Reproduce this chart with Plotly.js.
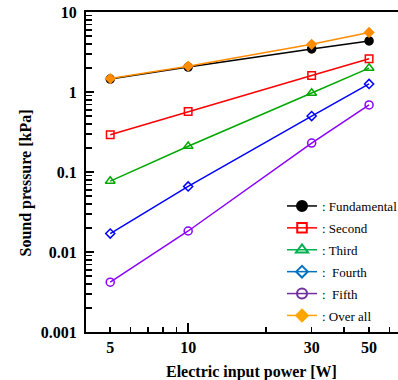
<!DOCTYPE html>
<html>
<head>
<meta charset="utf-8">
<script src="https://cdn.plot.ly/plotly-3.0.1.min.js"></script>
<style>
html,body{margin:0;padding:0;overflow:hidden;background:#fff;width:398px;height:380px;}
#chart{width:460px;height:380px;}
</style>
</head>
<body>
<div id="chart"></div>
<script>
// Data
const power = [5, 10, 30, 50];
const fundamental = [1.45, 2.05, 3.45, 4.35];
const second = [0.292, 0.57, 1.61, 2.6];
const third = [0.077, 0.21, 0.97, 1.99];
const fourth = [0.017, 0.066, 0.50, 1.26];
const fifth = [0.0042, 0.0183, 0.23, 0.69];
const overall = [1.47, 2.1, 3.95, 5.55];

const seriesNames = [': Fundamental', ': Second', ': Third', ':  Fourth', ':  Fifth', ': Over all'];
const xTickVals = [5, 10, 30, 50];
const xTickText = ['5', '10', '30', '50'];
const yTickVals = [0.001, 0.01, 0.1, 1, 10];
const yTickText = ['0.001', '0.01', '0.1', '1', '10'];
const xMinor = [5, 6, 7, 8, 9, 20, 30, 40, 50, 60, 70, 80, 90];
const yMinor = [];
[0.001, 0.01, 0.1, 1].forEach(d => { for (let k = 2; k <= 9; k++) yMinor.push(d * k); });

const series = [
  {y: fundamental, color: '#000000', legColor: '#000000', symbol: 'circle', size: 8},
  {y: second, color: '#ff0000', legColor: '#ff0000', symbol: 'square-open', size: 7.5},
  {y: third, color: '#00a800', legColor: '#00b050', symbol: 'triangle-up-open', size: 8.5},
  {y: fourth, color: '#0000ff', legColor: '#0070c0', symbol: 'diamond-open', size: 7},
  {y: fifth, color: '#8a00ff', legColor: '#7030a0', symbol: 'circle-open', size: 8},
  {y: overall, color: '#ff8c00', legColor: '#ffa500', symbol: 'diamond', size: 7}
];

const traces = [];
series.forEach((s, i) => {
  traces.push({
    x: power, y: s.y, type: 'scatter', mode: 'lines+markers',
    line: {color: s.color, width: 1.5},
    marker: {symbol: s.symbol, size: s.size, color: s.color, line: {color: s.color, width: 1.5}},
    showlegend: false, cliponaxis: false
  });
});
// legend entries (legend colours in the reference differ from the plotted lines)
series.forEach((s, i) => {
  traces.push({
    x: [null], y: [null], type: 'scatter', mode: 'lines+markers', name: seriesNames[i],
    legendgroup: 'g' + i,
    line: {color: s.legColor, width: 1.5},
    marker: {symbol: s.symbol, size: s.size + 2, color: s.legColor, line: {color: s.legColor, width: 2}},
    showlegend: true
  });
});

const serif = 'Liberation Serif, Times New Roman, serif';
const layout = {
  width: 460, height: 380,
  margin: {l: 86, r: 13, t: 12, b: 48},
  paper_bgcolor: '#fff', plot_bgcolor: '#fff',
  showlegend: true,
  legend: {
    x: (282 - 86) / 361, y: (332 - 191) / 320, xanchor: 'left', yanchor: 'top',
    bgcolor: 'rgba(0,0,0,0)', borderwidth: 0,
    font: {family: serif, size: 13, color: '#000'},
    traceorder: 'grouped', tracegroupgap: 2, itemwidth: 30
  },
  xaxis: {
    type: 'log', range: [Math.log10(4.03), 2],
    tickvals: xTickVals, ticktext: xTickText,
    ticks: '', showgrid: false, zeroline: false,
    showline: true, linecolor: '#000', linewidth: 2, mirror: true,
    tickfont: {family: serif, size: 16, color: '#000', weight: 'bold'},
    minor: {tickvals: xMinor, ticks: 'inside', ticklen: 5, tickwidth: 1.5, tickcolor: '#000', showgrid: false}
  },
  xaxis2: {
    type: 'log', range: [Math.log10(4.03), 2], overlaying: 'x', anchor: 'y', side: 'bottom',
    tickvals: [10, 100], ticks: 'inside', ticklen: 9, tickwidth: 1.5, tickcolor: '#000',
    showticklabels: false, showgrid: false, zeroline: false, showline: false
  },
  yaxis: {
    type: 'log', range: [-3, 1],
    tickvals: yTickVals, ticktext: yTickText,
    ticks: 'inside', ticklen: 8, tickwidth: 1.5, tickcolor: '#000',
    showgrid: false, zeroline: false,
    showline: true, linecolor: '#000', linewidth: 2, mirror: true,
    ticklabelstandoff: 4,
    tickfont: {family: serif, size: 16, color: '#000', weight: 'bold'},
    minor: {tickvals: yMinor, ticks: 'inside', ticklen: 6, tickwidth: 1.5, tickcolor: '#000', showgrid: false}
  },
  annotations: [
    {text: 'Electric input power [W]', xref: 'paper', yref: 'paper', x: (251.5 - 86) / 361, y: (332 - 372) / 320,
     xanchor: 'center', yanchor: 'middle', showarrow: false,
     font: {family: serif, size: 16, color: '#000', weight: 'bold'}},
    {text: 'Sound pressure [kPa]', xref: 'paper', yref: 'paper', x: (25 - 86) / 361, y: (332 - 183.5) / 320,
     xanchor: 'center', yanchor: 'middle', showarrow: false, textangle: -90,
     font: {family: serif, size: 16, color: '#000', weight: 'bold'}}
  ]
};
// dummy trace on xaxis2 so the overlay axis is drawn
traces.push({x: [null], y: [null], xaxis: 'x2', yaxis: 'y', type: 'scatter', mode: 'markers', showlegend: false, hoverinfo: 'skip'});

Plotly.newPlot('chart', traces, layout, {displayModeBar: false, staticPlot: true});
</script>
</body>
</html>
